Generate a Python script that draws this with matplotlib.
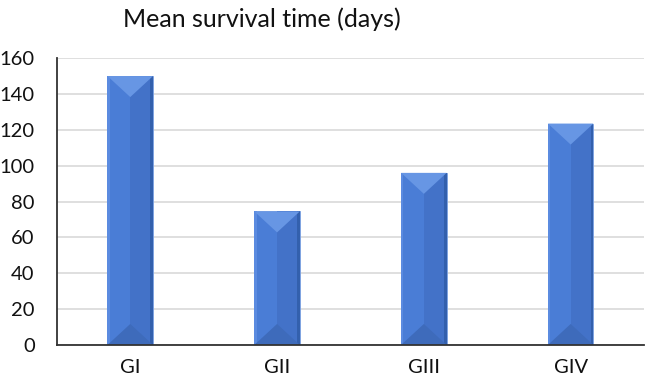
import matplotlib.pyplot as plt
from matplotlib.patches import Polygon, Rectangle

plt.rcParams['font.family'] = ['Lato', 'DejaVu Sans']

groups = ["GI", "GII", "GIII", "GIV"]
survival = [150, 74.5, 96, 123.5]

fig = plt.figure(figsize=(6.46, 3.85), dpi=100)
ax = fig.add_axes([0.088, 0.104, 0.909, 0.745])

bars = ax.bar(range(len(groups)), survival, width=0.31, color="#4a7dd6",
              edgecolor="#7aa0e0", linewidth=0.6, zorder=2)

ax.set_xlim(-0.5, len(groups) - 0.5)
ax.set_ylim(0, 160)
ax.set_yticks(range(0, 161, 20))
ax.set_xticks(range(len(groups)))
ax.set_xticklabels(groups)

# bevel look, depth given in pixels and turned into data units
ax_h_px = 0.745 * 3.85 * 100
d = 21 * 160 / ax_h_px
for b in bars:
    x0, w, h = b.get_x(), b.get_width(), b.get_height()
    xc = x0 + w / 2
    ax.add_patch(Rectangle((xc, 0), w / 2, h, color="#4372c8", lw=0, zorder=3))
    ax.add_patch(Rectangle((x0 + w * 0.94, 0), w * 0.06, h, color="#3360ad", lw=0, zorder=3))
    ax.add_patch(Rectangle((x0, 0), w * 0.05, h, color="#5b8be0", lw=0, zorder=3))
    ax.add_patch(Polygon([(x0, h), (x0 + w, h), (xc, h - d)], closed=True,
                         color="#6796e4", lw=0, zorder=4))
    ax.add_patch(Polygon([(x0, 0), (x0 + w, 0), (xc, d)], closed=True,
                         color="#3e6bbb", lw=0, zorder=4))

ax.grid(axis="y", color="#d9d9d9", linewidth=1.2, zorder=0)
ax.set_axisbelow(True)
for s in ["top", "right"]:
    ax.spines[s].set_visible(False)
for s in ["left", "bottom"]:
    ax.spines[s].set_color("#333333")
    ax.spines[s].set_linewidth(1.3)
    ax.spines[s].set_zorder(5)
ax.tick_params(axis="y", length=0, pad=16, labelsize=14.5, labelcolor="#111111")
ax.tick_params(axis="x", length=0, pad=10, labelsize=14.5, labelcolor="#111111")

fig.text(262 / 646, 1 - 19 / 385, "Mean survival time (days)", ha="center",
         va="center", fontsize=18, color="#111111")

fig.savefig("out.png", dpi=100)
